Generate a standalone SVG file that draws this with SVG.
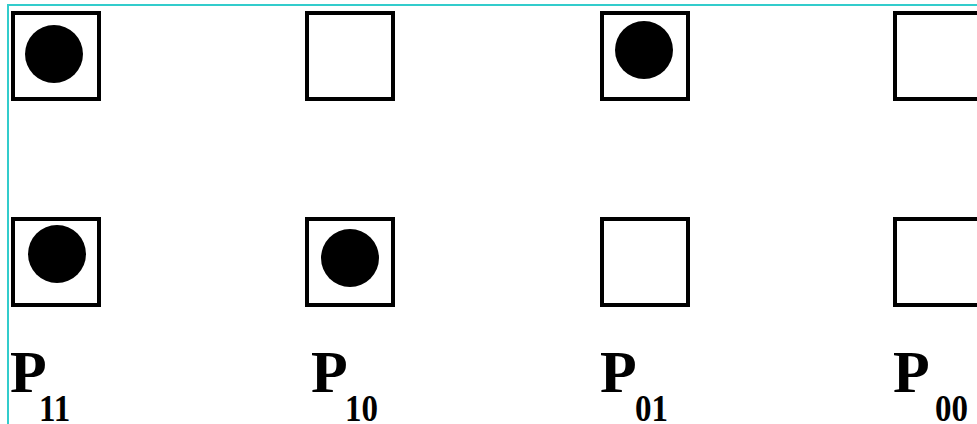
<svg xmlns="http://www.w3.org/2000/svg" width="977" height="424" viewBox="0 0 977 424">
<style>
.sq{fill:#fff;stroke:#000;stroke-width:4}
.dot{fill:#000}
.p{font-family:"Liberation Serif",serif;font-weight:bold;font-size:60px;fill:#000}
.s{font-family:"Liberation Serif",serif;font-weight:bold;font-size:33px;fill:#000}
</style>
<rect x="0" y="0" width="977" height="424" fill="#fff"/>
<rect x="8" y="5" width="1000" height="500" fill="none" stroke="#33cccc" stroke-width="2"/>
<g id="n11">
<rect class="sq" x="13" y="13" width="86" height="86"/>
<circle class="dot" cx="54" cy="54" r="29"/>
<rect class="sq" x="13" y="219" width="86" height="86"/>
<circle class="dot" cx="57" cy="254" r="29"/>
<text class="p" x="10" y="392">P</text>
<text class="s" transform="translate(39,421) scale(1,1.12)">11</text>
</g>
<g id="n10">
<rect class="sq" x="307" y="13" width="86" height="86"/>
<rect class="sq" x="307" y="219" width="86" height="86"/>
<circle class="dot" cx="350" cy="258" r="29"/>
<text class="p" x="311" y="392">P</text>
<text class="s" transform="translate(345,421) scale(1,1.12)">10</text>
</g>
<g id="n01">
<rect class="sq" x="602" y="13" width="86" height="86"/>
<circle class="dot" cx="644" cy="50" r="29"/>
<rect class="sq" x="602" y="219" width="86" height="86"/>
<text class="p" x="600" y="392">P</text>
<text class="s" transform="translate(635,421) scale(1,1.12)">01</text>
</g>
<g id="n00">
<rect class="sq" x="895" y="13" width="86" height="86"/>
<rect class="sq" x="895" y="219" width="86" height="86"/>
<text class="p" x="893" y="392">P</text>
<text class="s" transform="translate(935,421) scale(1,1.12)">00</text>
</g>
<g id="connectors"></g>
</svg>
